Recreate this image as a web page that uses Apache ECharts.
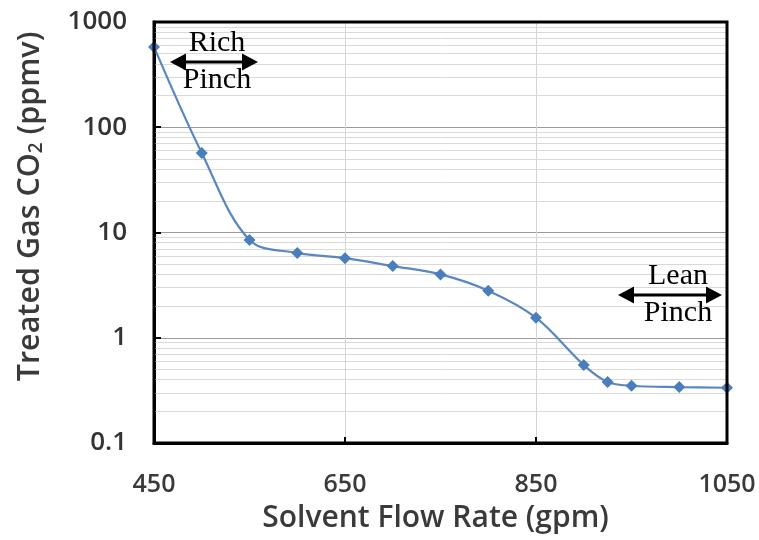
<!DOCTYPE html>
<html>
<head>
<meta charset="utf-8">
<script src="https://cdn.jsdelivr.net/npm/echarts@6/dist/echarts.min.js"></script>
<style>
html,body{margin:0;padding:0;background:#fff;}
#chart{width:759px;height:540px;}
</style>
</head>
<body>
<div id="chart"></div>
<script>
// ---- data ----
var flowRate = [450, 500, 550, 600, 650, 700, 750, 800, 850, 900, 925, 950, 1000, 1050];
var co2ppmv  = [580, 57, 8.5, 6.4, 5.7, 4.8, 4.0, 2.8, 1.55, 0.55, 0.38, 0.35, 0.34, 0.335];
var xTicks = [450, 650, 850, 1050];
var yTicks = [0.1, 1, 10, 100, 1000];
var minorGrid = [0.2,0.3,0.4,0.5,0.6,0.7,0.8,0.9, 2,3,4,5,6,7,8,9, 20,30,40,50,60,70,80,90, 200,300,400,500,600,700,800,900];

var chart = echarts.init(document.getElementById('chart'), null, {renderer:'canvas'});
var pts = flowRate.map(function(x,i){return [x, co2ppmv[i]];});
var labelFont = '"Open Sans", sans-serif';

function arrow(cx, y, x1, x2){
  var hl = 16, hh = 8.5;
  return [
    {type:'line', shape:{x1:x1+hl-2, y1:y, x2:x2-hl+2, y2:y}, style:{stroke:'#000', lineWidth:3}, z:100},
    {type:'polygon', shape:{points:[[x1,y],[x1+hl,y-hh],[x1+hl,y+hh]]}, style:{fill:'#000'}, z:100},
    {type:'polygon', shape:{points:[[x2,y],[x2-hl,y-hh],[x2-hl,y+hh]]}, style:{fill:'#000'}, z:100}
  ];
}
function serifText(t, x, y){
  return {type:'text', x:x, y:y, z:100, style:{text:t, fill:'#000', font:'30px "Liberation Serif", serif', textAlign:'center', textVerticalAlign:'middle'}};
}

var graphics = [].concat(
  [serifText('Rich', 217, 43), serifText('Pinch', 217, 80)],
  arrow(214, 62, 170, 258),
  [serifText('Lean', 678, 276), serifText('Pinch', 678, 313)],
  arrow(670, 295, 618, 722)
);

chart.setOption({
  animation:false,
  backgroundColor:'#fff',
  grid:{left:154, right:32, top:22, bottom:97, outerBoundsMode:'none', containLabel:false,
        show:true, borderColor:'#000', borderWidth:3, backgroundColor:'transparent', z:10},
  xAxis:{
    type:'value', min:450, max:1050, interval:200,
    name:'Solvent Flow Rate (gpm)', nameLocation:'middle', nameGap:60,
    nameTextStyle:{fontFamily:labelFont, fontWeight:600, fontSize:30, color:'#3a3a3a', padding:[0,10,0,0]},
    axisLine:{show:true, lineStyle:{color:'#000', width:3}},
    axisTick:{show:true, inside:true, length:6, lineStyle:{color:'#000', width:2}},
    axisLabel:{fontFamily:labelFont, fontWeight:600, fontSize:25, color:'#3a3a3a', margin:29,
      formatter:function(v){ return String(v); }},
    splitLine:{show:true, lineStyle:{color:'#d4d4d4', width:1}}
  },
  yAxis:{
    type:'log', logBase:10, min:0.1, max:1000,
    name:'{a|Treated Gas CO}{s|2}{a| (ppmv)}', nameLocation:'middle', nameGap:108, nameRotate:90,
    nameTextStyle:{padding:[0,0,0,52], rich:{
      a:{fontFamily:labelFont, fontWeight:600, fontSize:30.5, color:'#3a3a3a', verticalAlign:'middle'},
      s:{fontFamily:labelFont, fontWeight:600, fontSize:19, color:'#3a3a3a', verticalAlign:'bottom', padding:[12,0,0,0]}
    }},
    axisLine:{show:true, lineStyle:{color:'#000', width:3}},
    axisTick:{show:true, inside:true, length:7, lineStyle:{color:'#000', width:2}},
    axisLabel:{fontFamily:labelFont, fontWeight:600, fontSize:26, color:'#333', margin:27,
      formatter:function(v){ return String(+v.toPrecision(6)); }},
    splitLine:{show:true, lineStyle:{color:'#9a9a9a', width:1.2}}
  },
  series:[
    {
      type:'line', data:[], silent:true, z:1,
      markLine:{silent:true, symbol:'none', animation:false, label:{show:false},
        lineStyle:{color:'#d9d9d9', width:1, type:'solid'},
        data:minorGrid.map(function(v){return {yAxis:v};})}
    },
    {
      type:'line', data:pts, smooth:0.35, z:5,
      symbol:'diamond', symbolSize:12,
      lineStyle:{color:'#5b87c0', width:2.2},
      itemStyle:{color:'#4a7ebb'}
    }
  ],
  graphic:graphics
});
</script>
</body>
</html>
